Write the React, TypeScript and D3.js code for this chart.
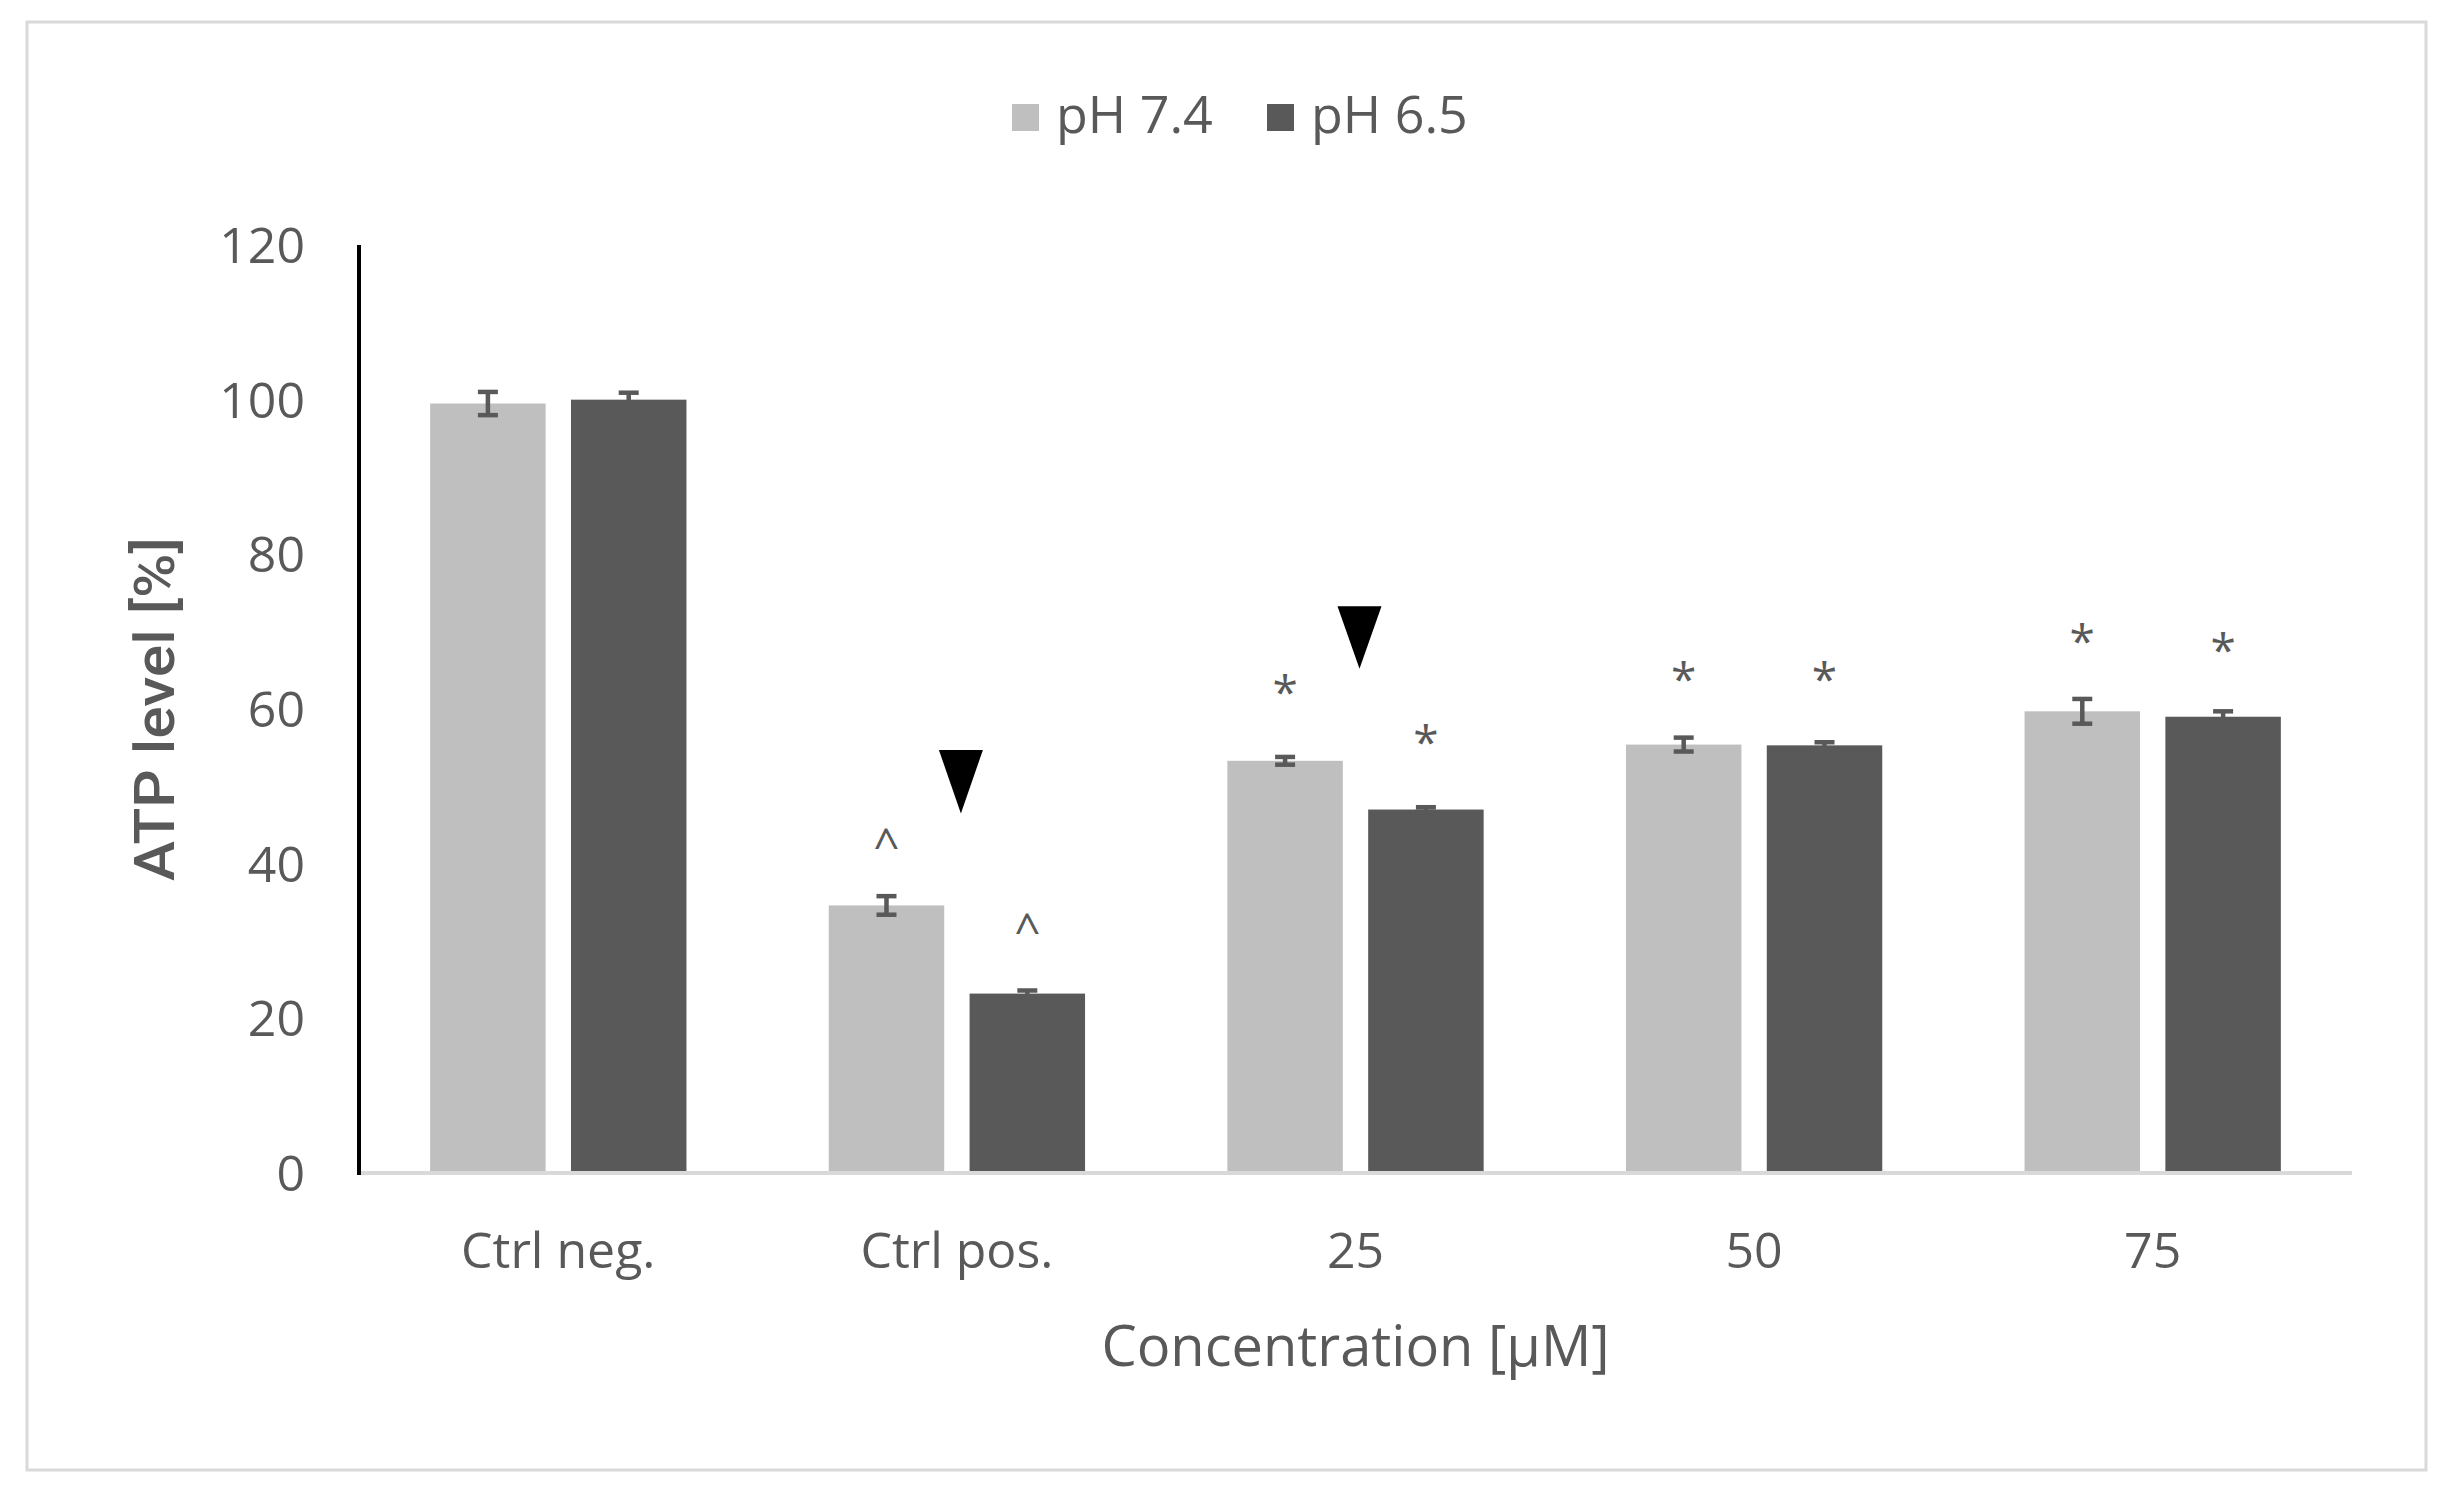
import React from 'react';
import * as d3 from 'd3';

const categories = ['Ctrl neg.', 'Ctrl pos.', '25', '50', '75'];
const seriesNames = ['pH 7.4', 'pH 6.5'];
const ph74 = [99.5, 34.6, 53.3, 55.4, 59.7];
const ph74Err = [1.5, 1.2, 0.5, 0.9, 1.6];
const ph65 = [100, 23.2, 47.0, 55.3, 59.0];
const ph65Err = [0.9, 0.4, 0.3, 0.4, 0.7];
const yTicks = [0, 20, 40, 60, 80, 100, 120];

// significance marks: category, series (0/1), symbol, value where the symbol sits
const marks = [
  { cat: 'Ctrl pos.', s: 0, sym: '^', v: 44.8 },
  { cat: 'Ctrl pos.', s: 1, sym: '^', v: 33.8 },
  { cat: '25', s: 0, sym: '*', v: 64.2 },
  { cat: '25', s: 1, sym: '*', v: 57.7 },
  { cat: '50', s: 0, sym: '*', v: 65.8 },
  { cat: '50', s: 1, sym: '*', v: 65.8 },
  { cat: '75', s: 0, sym: '*', v: 70.8 },
  { cat: '75', s: 1, sym: '*', v: 69.6 },
];
// black down-pointing triangles: category, tip value, top value
const arrows = [
  { cat: 'Ctrl pos.', tip: 46.5, top: 54.7 },
  { cat: '25', tip: 65.2, top: 73.3 },
];

const W = 2450;
const H = 1498;
const colors = ['#bfbfbf', '#595959'];
const textColor = '#595959';
const font = 'Open Sans, sans-serif';

const App: React.FC = () => {
  const left = 359;
  const right = 2352;
  const top = 245;
  const bottom = 1173;

  const x = d3.scaleBand<string>().domain(categories).range([left, right]).paddingInner(0.357).paddingOuter(0.1785);
  const xs = d3.scaleBand<number>().domain([0, 1]).range([0, x.bandwidth()]).paddingInner(0.18);
  const y = d3.scaleLinear().domain([0, 120]).range([bottom, top]);

  const series = [
    { vals: ph74, errs: ph74Err },
    { vals: ph65, errs: ph65Err },
  ];
  const capW = 20;

  return (
    <svg width={W} height={H} style={{ position: 'absolute', left: 0, top: 0, background: '#fff' }} fontFamily={font}>
      <rect x={27} y={22} width={2399} height={1448} fill="#fff" stroke="#d9d9d9" strokeWidth={3} />

      {/* legend */}
      {seriesNames.map((n, i) => {
        const lx = i === 0 ? 1012 : 1267;
        return (
          <g key={n}>
            <rect x={lx} y={104} width={27} height={27} fill={colors[i]} />
            <text x={lx + 44} y={133} fontSize={52} fill={textColor}>{n}</text>
          </g>
        );
      })}

      {/* bars */}
      {series.map((s, si) =>
        categories.map((c, ci) => {
          const bx = x(c)! + xs(si)!;
          return (
            <rect key={`${si}-${ci}`} x={bx} y={y(s.vals[ci])} width={xs.bandwidth()} height={y(0) - y(s.vals[ci])} fill={colors[si]} />
          );
        })
      )}

      {/* error bars */}
      {series.map((s, si) =>
        categories.map((c, ci) => {
          const cx = x(c)! + xs(si)! + xs.bandwidth() / 2;
          const hi = y(s.vals[ci] + s.errs[ci]);
          const lo = y(s.vals[ci] - s.errs[ci]);
          return (
            <g key={`e${si}-${ci}`} stroke="#595959" strokeWidth={4.5}>
              <line x1={cx} x2={cx} y1={hi} y2={lo} />
              <line x1={cx - capW / 2} x2={cx + capW / 2} y1={hi} y2={hi} />
              <line x1={cx - capW / 2} x2={cx + capW / 2} y1={lo} y2={lo} />
            </g>
          );
        })
      )}

      {/* axes */}
      <line x1={left} x2={right} y1={y(0)} y2={y(0)} stroke="#d9d9d9" strokeWidth={4} />
      <line x1={left} x2={left} y1={y(120)} y2={y(0) + 2} stroke="#000" strokeWidth={4} />
      {yTicks.map((t) => (
        <text key={t} x={305} y={y(t)} dy="0.36em" textAnchor="end" fontSize={50} fill={textColor}>{t}</text>
      ))}
      {categories.map((c) => (
        <text key={c} x={x(c)! + x.bandwidth() / 2} y={1268} textAnchor="middle" fontSize={50} fill={textColor}>{c}</text>
      ))}
      <text x={(left + right) / 2} y={1366} textAnchor="middle" fontSize={56} fill={textColor}>Concentration [μM]</text>
      <text transform={`translate(174,${(top + bottom) / 2}) rotate(-90)`} textAnchor="middle" fontSize={56} fontWeight={500} fontFamily="Roboto, Liberation Sans, sans-serif" fill={textColor} textLength={344} lengthAdjust="spacingAndGlyphs">ATP level [%]</text>

      {/* significance marks */}
      {marks.map((m, i) => (
        <text key={i} x={x(m.cat)! + xs(m.s)! + xs.bandwidth() / 2} y={y(m.v)} dy={m.sym === '*' ? '0.7em' : '0.75em'} textAnchor="middle" fontSize={46} fill={textColor}>{m.sym}</text>
      ))}
      {arrows.map((a, i) => {
        const cx = x(a.cat)! + x.bandwidth() / 2 + 4;
        const hw = 22;
        return <path key={i} d={`M${cx - hw},${y(a.top)} L${cx + hw},${y(a.top)} L${cx},${y(a.tip)} Z`} fill="#000" />;
      })}
    </svg>
  );
};

export default App;
